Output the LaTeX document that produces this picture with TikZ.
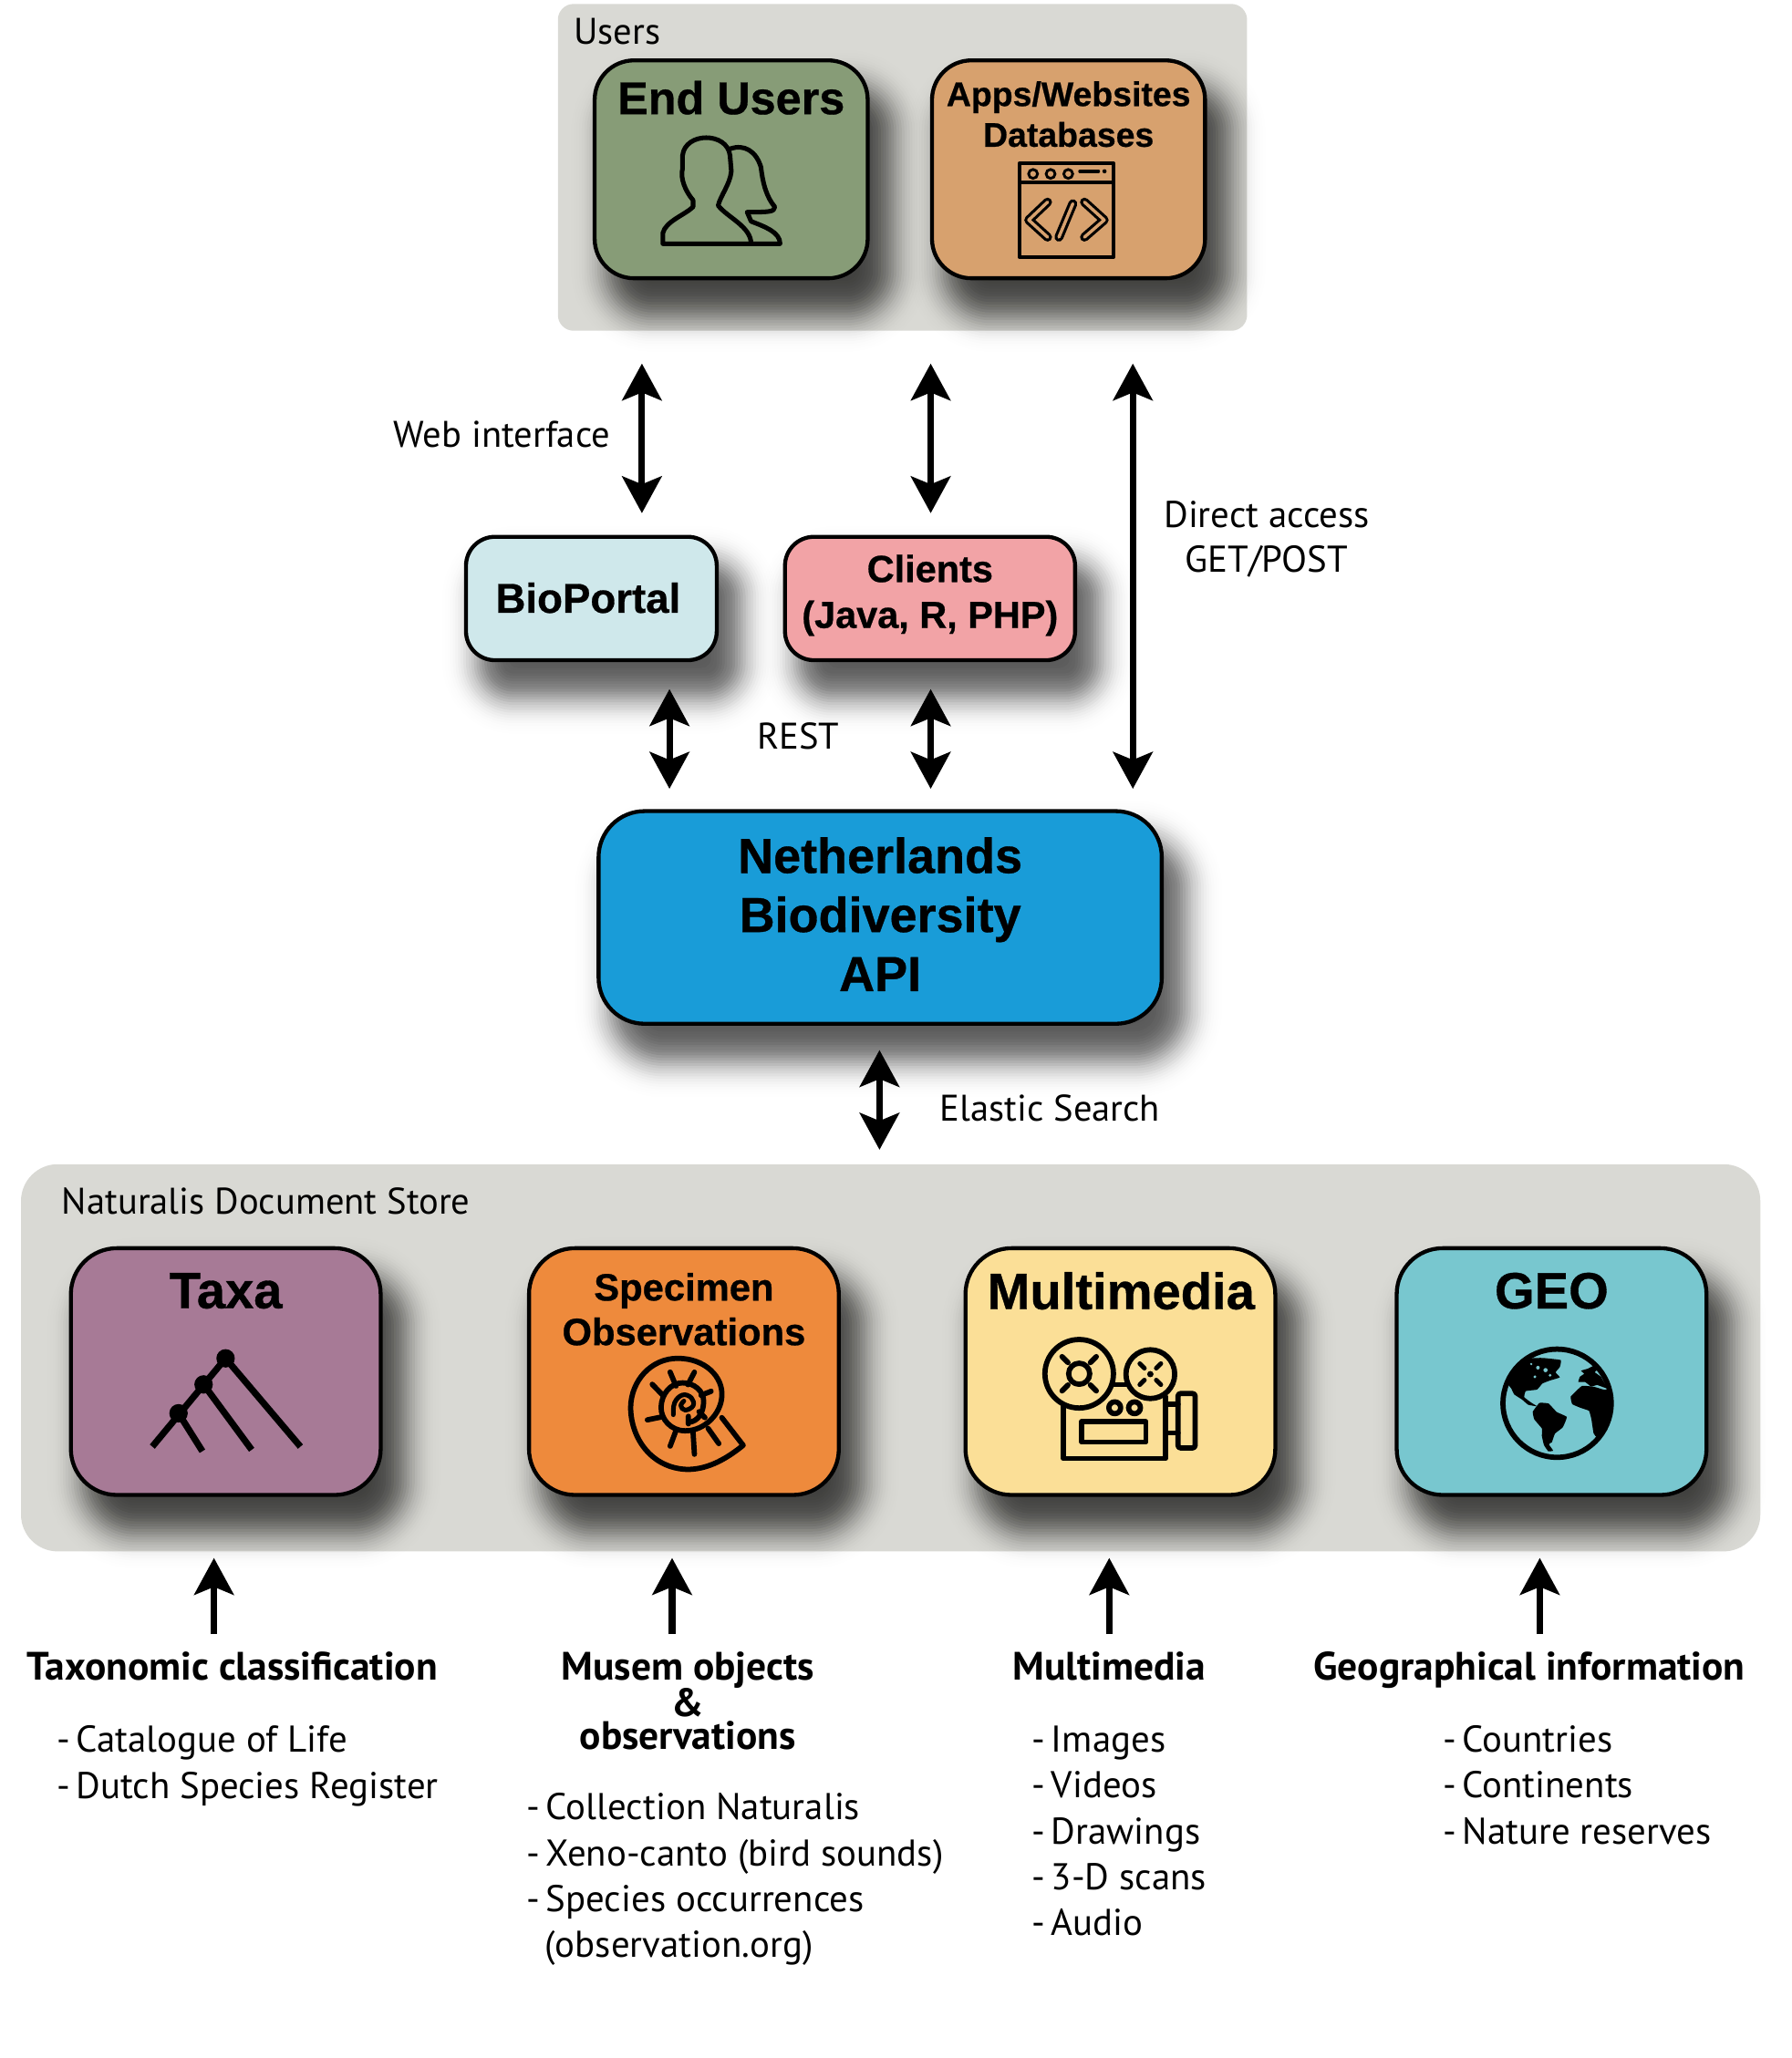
\documentclass[tikz,border=0pt]{standalone}
\usepackage{fontspec}
\setmainfont{PT Sans}
\newfontfamily\cardfont{Liberation Sans}[BoldFeatures={FakeBold=0.6}]
\usetikzlibrary{arrows.meta}
\definecolor{panelgrey}{HTML}{D9D9D4}
\definecolor{cardgreen}{HTML}{879C77}
\definecolor{cardtan}{HTML}{D7A16E}
\definecolor{cardice}{HTML}{CFE8EB}
\definecolor{cardrose}{HTML}{F2A3A6}
\definecolor{cardblue}{HTML}{199CD8}
\definecolor{cardmauve}{HTML}{A77A96}
\definecolor{cardorange}{HTML}{EE8A3C}
\definecolor{cardyellow}{HTML}{FBDF97}
\definecolor{cardteal}{HTML}{78C7CF}
\pgfdeclarelayer{panels}
\pgfdeclarelayer{shades}
\pgfsetlayers{panels,shades,main}
\tikzset{
  panel/.style={rectangle,fill=panelgrey,rounded corners=#1,inner sep=0pt,outer sep=0pt},
  card/.style={rectangle,draw=black,line width=3pt,rounded corners=#1,inner sep=0pt,outer sep=0pt,align=center},
  plain/.style={inner sep=0pt,font=\fontsize{28.2}{35}\selectfont},
  head/.style={inner sep=0pt,align=center,font=\bfseries\fontsize{30.2}{26}\selectfont},
  items/.style={inner sep=0pt,align=left,anchor=west,font=\fontsize{28.4}{35}\selectfont},
  cardbig/.style={inner sep=0pt,align=center,font=\cardfont\bfseries\fontsize{39}{45}\selectfont},
  cardmid/.style={inner sep=0pt,align=center,font=\cardfont\bfseries\fontsize{29}{34}\selectfont},
  cardsmall/.style={inner sep=0pt,align=center,font=\cardfont\bfseries\fontsize{26}{31}\selectfont},
  twoway/.style={line width=5pt,{Stealth[length=28pt,width=30pt,inset=6pt]}-{Stealth[length=28pt,width=30pt,inset=6pt]}},
  oneway/.style={line width=5pt,-{Stealth[length=28pt,width=30pt,inset=6pt]}},
  icon/.style={line width=4pt,line cap=round,line join=round}
}
\newcommand{\cardshadow}[2]{%
  \begin{pgfonlayer}{shades}
  \foreach \s in {-40,-38,...,40}{
    \pgfmathsetmacro\shadeop{0.066*exp(-(\s/18)*(\s/18))}
    \pgfmathsetmacro\shaderad{max(#2+\s,8)}
    \fill[black,opacity=\shadeop,rounded corners=\shaderad pt]
      ([shift={(14-\s,24-\s)}]#1.north west) rectangle ([shift={(14+\s,24+\s)}]#1.south east);
  }
  \end{pgfonlayer}}
\newcommand{\itemdash}{-\hspace{-3pt} }
\begin{document}
\begin{tikzpicture}[x=1pt,y=-1pt]
  \useasboundingbox (0,0) rectangle (1365,1568);

  \begin{pgfonlayer}{panels}
    \node[panel=12pt,minimum width=525pt,minimum height=249pt](users) at (687.5,127.5){};
    \node[panel=28pt,minimum width=1325pt,minimum height=295pt](store) at (678.5,1034.5){};
  \end{pgfonlayer}
  \node[plain,anchor=west](userslabel) at (437,24){Users};
  \node[plain,anchor=west](storelabel) at (47,915){Naturalis Document Store};

  \node[card=30,fill=cardgreen,minimum width=208pt,minimum height=166pt](endusers) at (557,129){};
  \node[card=30,fill=cardtan,minimum width=208pt,minimum height=166pt](apps) at (814,129){};
  \node[card=22,fill=cardice,minimum width=191pt,minimum height=94pt](bioportal) at (450.5,456){};
  \node[card=22,fill=cardrose,minimum width=221pt,minimum height=94pt](clients) at (708.5,456){};
  \node[card=35,fill=cardblue,minimum width=429pt,minimum height=162pt](api) at (670.5,699){};
  \node[card=35,fill=cardmauve,minimum width=236pt,minimum height=188pt](taxa) at (172,1045){};
  \node[card=35,fill=cardorange,minimum width=236pt,minimum height=188pt](specimen) at (521,1045){};
  \node[card=35,fill=cardyellow,minimum width=236pt,minimum height=188pt](multimedia) at (853.5,1045){};
  \node[card=35,fill=cardteal,minimum width=236pt,minimum height=188pt](geo) at (1182,1045){};

  \cardshadow{endusers}{30}
  \cardshadow{apps}{30}
  \cardshadow{bioportal}{22}
  \cardshadow{clients}{22}
  \cardshadow{api}{35}
  \cardshadow{taxa}{35}
  \cardshadow{specimen}{35}
  \cardshadow{multimedia}{35}
  \cardshadow{geo}{35}

  \node[cardmid,font=\cardfont\bfseries\fontsize{35}{35}\selectfont](enduserstitle) at (557,74.5){End Users};
  \node[cardsmall](appstitle) at (814,87){Apps/Websites\\Databases};
  \node[cardsmall,font=\cardfont\bfseries\fontsize{31.7}{31.7}\selectfont](biotitle) at (448,455.5){BioPortal};
  \node[cardsmall,font=\cardfont\bfseries\fontsize{28.8}{35}\selectfont](clientstitle) at (708.5,453.5){Clients\\(Java, R, PHP)};
  \node[cardbig,font=\cardfont\bfseries\fontsize{37.5}{45}\selectfont](apititle) at (670.5,696.5){Netherlands\\Biodiversity\\API};
  \node[cardbig](taxatitle) at (172,983.5){Taxa};
  \node[cardmid](specimentitle) at (521,997.5){Specimen\\Observations};
  \node[cardbig](multimediatitle) at (854,983.5){Multimedia};
  \node[cardbig](geotitle) at (1182,983.5){GEO};

  \coordinate (webtop) at (489,277);
  \coordinate (webbot) at (489,391);
  \coordinate (clienttop) at (709,277);
  \coordinate (clientbot) at (709,391);
  \coordinate (directtop) at (863,277);
  \coordinate (directbot) at (863,601);
  \coordinate (resttop) at (510,525);
  \coordinate (restbot) at (510,601);
  \coordinate (callstop) at (709,525);
  \coordinate (callsbot) at (709,601);
  \coordinate (elastictop) at (670,800);
  \coordinate (elasticbot) at (670,876);
  \draw[twoway] (webtop) -- (webbot);
  \draw[twoway] (clienttop) -- (clientbot);
  \draw[twoway] (directtop) -- (directbot);
  \draw[twoway] (resttop) -- (restbot);
  \draw[twoway] (callstop) -- (callsbot);
  \draw[twoway] (elastictop) -- (elasticbot);

  \coordinate (taxafoot) at (163,1245);
  \coordinate (taxahead) at (163,1187);
  \coordinate (museumfoot) at (512,1245);
  \coordinate (museumhead) at (512,1187);
  \coordinate (mediafoot) at (845,1245);
  \coordinate (mediahead) at (845,1187);
  \coordinate (geofoot) at (1173,1245);
  \coordinate (geohead) at (1173,1187);
  \draw[oneway] (taxafoot) -- (taxahead);
  \draw[oneway] (museumfoot) -- (museumhead);
  \draw[oneway] (mediafoot) -- (mediahead);
  \draw[oneway] (geofoot) -- (geohead);

  \node[plain,anchor=east](weblabel) at (465,331){Web interface};
  \node[plain,align=center,font=\fontsize{28.4}{34}\selectfont](directlabel) at (965,411){Direct access\\GET/POST};
  \node[plain](restlabel) at (608,561){REST};
  \node[plain,anchor=west](elasticlabel) at (716,844){Elastic Search};

  \node[head,anchor=base](taxaheading) at (177,1280){Taxonomic classification};
  \node[head](museumheading) at (524,1296){Musem objects\\[-1.2pt]\&\\[-1.2pt]observations};
  \node[head,anchor=base](mediaheading) at (845,1280){Multimedia};
  \node[head,anchor=base](geoheading) at (1165,1280){Geographical information};

  \node[items](taxaitems) at (43,1345.5){\itemdash Catalogue of Life\\\itemdash Dutch Species Register};
  \node[items](museumitems) at (401,1432){\itemdash Collection Naturalis\\\itemdash Xeno-canto (bird sounds)\\\itemdash Species occurrences\\\hspace*{14pt}(observation.org)};
  \node[items](mediaitems) at (786,1395){\itemdash Images\\\itemdash Videos\\\itemdash Drawings\\\itemdash 3-D scans\\\itemdash Audio};
  \node[items](geoitems) at (1099,1360){\itemdash Countries\\\itemdash Continents\\\itemdash Nature reserves};

  \begin{scope}[scale=1.0038]
    % people
    \draw[icon,line width=3.5pt,fill=cardgreen] (554,113) .. controls (565,109) and (574,115) .. (577.5,127) .. controls (579,140) and (582,150) .. (588,157) .. controls (588,161) and (583,161) .. (567,161) -- (570,168) .. controls (580,172) and (592,176) .. (592,185) -- (570,185);
    \draw[icon,line width=3.5pt,fill=cardgreen] (503,185) -- (503,177) .. controls (505,168) and (520,163) .. (526,157) -- (526,152) .. controls (520,145) and (516,135) .. (518,128) -- (518,118) .. controls (520,100) and (552,100) .. (554,118) -- (555,130) .. controls (554,140) and (547,148) .. (545,156) .. controls (552,165) and (570,172) .. (570,185) -- cycle;
    % browser window
    \draw[icon,line width=3pt,line cap=butt] (773.6,124) rectangle (845,195);
    \draw[icon,line width=3pt,line cap=butt] (773.6,138.4) -- (845,138.4);
    \draw[line width=2pt] (784,132) circle (3.4) (797.3,132) circle (3.4) (810.7,132) circle (3.4);
    \draw[icon,line width=2.5pt] (819.5,130) -- (833.6,130);
    \fill (838.2,130) circle (1.6);
    \draw[icon,line width=2.2pt,double=cardtan,double distance=2.4pt] (795,153.4) -- (780.7,167) -- (795,180);
    \draw[icon,line width=2.2pt,double=cardtan,double distance=2.4pt] (814.2,154.6) -- (803.6,180);
    \draw[icon,line width=2.2pt,double=cardtan,double distance=2.4pt] (823,153.4) -- (838,167) -- (823,180);
    % tree
    \draw[line width=5pt] (171.2,1031) -- (115.6,1098);
    \draw[line width=5pt] (171.2,1031) -- (228,1098);
    \draw[line width=5pt] (154.5,1050.8) -- (191,1100.4);
    \draw[line width=5pt] (135.5,1072.7) -- (153.6,1101.5);
    \fill (171.2,1031) circle (7) (154.5,1050.8) circle (7) (135.5,1072.7) circle (7);
    % shell
    \draw[icon] (547.8,1076) -- (564,1097) .. controls (548,1110) and (535,1115) .. (522.4,1115.3) .. controls (495,1115) and (478.6,1092) .. (478.6,1068) .. controls (479,1048) and (494,1031) .. (514.4,1031) .. controls (535,1031) and (549,1045) .. (547.8,1060) .. controls (547,1073) and (535,1086) .. (520,1086) .. controls (509,1086) and (501.5,1077) .. (501.7,1068) .. controls (502,1058) and (509,1049.6) .. (518,1049.6) .. controls (527,1049.6) and (534,1056) .. (534,1063.4) .. controls (534,1072) and (530,1079) .. (522.4,1079.6);
    \draw[icon,line width=3.5pt] plot[smooth,tension=.7] coordinates {(511,1073.8) (512,1064.6) (518,1058.8) (524.7,1061) (526,1067) (520,1070.3) (516.7,1067) (519,1063.4)};
    \draw[icon] (495,1050.7) -- (503,1059) (508.6,1041.5) -- (513,1052) (527,1041.5) -- (522,1051) (539.7,1056) -- (532,1059);
    \draw[icon] (491.3,1077.7) -- (502,1075.5) (508.6,1097.6) -- (513.2,1085.3) (527,1103.8) -- (525.9,1086) (545.5,1095.7) -- (537.4,1084.2);
    \draw[icon] (522.4,1075) -- (522.4,1080.7) (535,1076) -- (530.5,1071.5);
    % projector
    \draw[icon] (807,1066) -- (807,1107) -- (884.5,1107) -- (884.5,1060);
    \draw[icon] (845,1051) -- (856,1051);
    \draw[icon] (819,1042.7) circle (26) (873,1043) circle (18.5);
    \draw[icon] (819,1042.7) circle (8);
    \draw[icon] (846,1068.5) circle (4.5) (861,1068.5) circle (4.5);
    \draw[icon] (821,1079) rectangle (869.6,1094.6);
    \draw[icon] (884.5,1066) -- (894,1066) (884.5,1087.6) -- (894,1087.6);
    \draw[icon,rounded corners=2pt] (894,1057.7) rectangle (907,1099);
    \draw[icon] (806,1029.7) -- (810.5,1034.2) (832,1029.7) -- (827.5,1034.2) (806,1055.7) -- (810.5,1051.2) (832,1055.7) -- (827.5,1051.2);
    \draw[icon,line width=3.5pt] (865,1035) -- (868.5,1038.5) (881,1035) -- (877.5,1038.5) (865,1051) -- (868.5,1047.5) (881,1051) -- (877.5,1047.5);
    \fill (873,1043) circle (2.4);
    % globe
    \begin{scope}[shift={(1121,1010.4)},x=0.2307pt,y=-0.2307pt]
      \draw[line width=4pt] (263,237) circle (178);
      \clip (263,237) circle (178);
      \fill plot[smooth cycle,tension=.2] coordinates {(95,165) (110,120) (170,90) (215,88) (275,95) (272,118) (258,135) (272,152) (240,162) (215,172) (197,192) (160,197) (155,217) (178,235) (197,247) (168,242) (148,225) (122,208) (112,188)};
      \fill plot[smooth cycle,tension=.2] coordinates {(183,265) (205,236) (235,238) (262,266) (295,282) (282,316) (256,337) (246,365) (236,372) (250,393) (234,395) (220,375) (213,345) (213,320) (188,290)};
      \fill plot[smooth cycle,tension=.2] coordinates {(308,215) (345,180) (385,183) (420,193) (455,185) (470,240) (440,300) (395,348) (383,335) (376,290) (368,262) (340,252) (313,240)};
      \fill plot[smooth cycle,tension=.2] coordinates {(333,167) (338,150) (352,140) (342,130) (365,123) (385,113) (397,125) (387,135) (407,150) (428,188) (395,177) (375,182) (355,167)};
      \fill[cardteal] (200,120) circle (6) (225,128) circle (7) (190,150) circle (5) (178,108) circle (4) (240,145) circle (5);
    \end{scope}
  \end{scope}
\end{tikzpicture}
\end{document}
